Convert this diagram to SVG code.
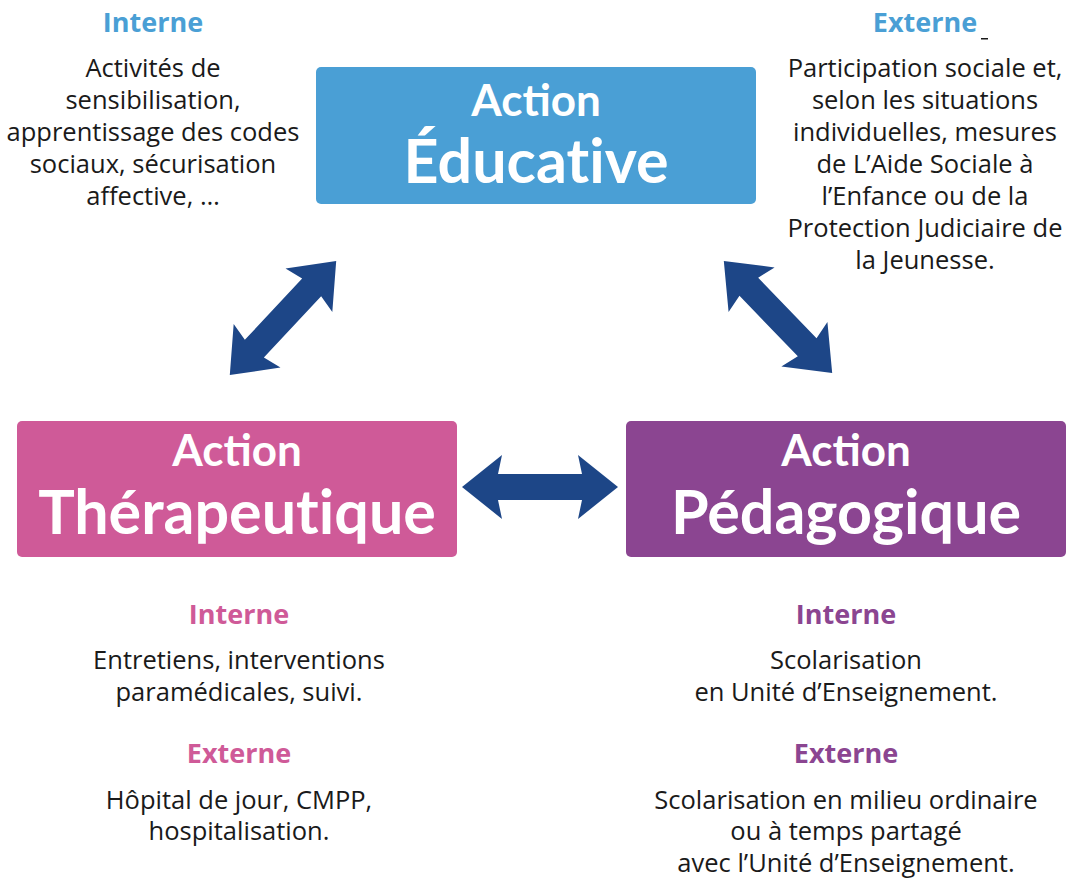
<svg xmlns="http://www.w3.org/2000/svg" width="1067" height="883" viewBox="0 0 1067 883">
<style>
.t{font-family:"Open Sans",Lato,"Liberation Sans",sans-serif;font-size:25.5px;fill:#1a1a1a;text-anchor:middle}
.h{font-family:"Open Sans",Lato,"Liberation Sans",sans-serif;font-size:27px;font-weight:bold;text-anchor:middle}
.b1{font-family:Lato,"Open Sans","Liberation Sans",sans-serif;font-size:44px;font-weight:bold;fill:#fff;text-anchor:middle}
.b2{font-family:Lato,"Open Sans","Liberation Sans",sans-serif;font-size:61px;font-weight:bold;fill:#fff;text-anchor:middle;font-variant-ligatures:none}
.blue{fill:#4a9fd5}.pink{fill:#cf5a98}.purple{fill:#8b4591}
.arr{fill:#1d4687}
</style>
<defs>
<path id="darr" d="M-78,0 L-38,-32 L-42,-13 L42,-13 L38,-32 L78,0 L38,32 L42,13 L-42,13 L-38,32 Z"/>
</defs>
<rect width="1067" height="883" fill="#fff"/>
<g id="educative">
<rect x="316" y="67" width="440" height="137" rx="5" class="blue"/>
<text class="b1" x="536" y="116">Action</text>
<text class="b2" x="536" y="183">Éducative</text>
</g>
<g id="therapeutique">
<rect x="17" y="421" width="440" height="136" rx="5" class="pink"/>
<text class="b1" x="237" y="466">Action</text>
<text class="b2" x="237" y="534">Thérapeutique</text>
</g>
<g id="pedagogique">
<rect x="626" y="421" width="440" height="136" rx="5" class="purple"/>
<text class="b1" x="846" y="466">Action</text>
<text class="b2" x="846" y="534">Pédagogique</text>
</g>
<g id="connectors" class="arr">
<use href="#darr" transform="translate(283,318) rotate(-47)"/>
<use href="#darr" transform="translate(778,317) rotate(46)"/>
<use href="#darr" transform="translate(540,487)"/>
</g>
<g id="educ-interne">
<text class="h blue" x="153" y="32">Interne</text>
<text class="t" x="153" y="77">Activités de</text>
<text class="t" x="153" y="109">sensibilisation,</text>
<text class="t" x="153" y="141">apprentissage des codes</text>
<text class="t" x="153" y="173">sociaux, sécurisation</text>
<text class="t" x="153" y="205">affective, …</text>
</g>
<g id="educ-externe">
<text class="h blue" x="925" y="32">Externe</text>
<rect x="981" y="38" width="7" height="1.5" fill="#1a1a1a"/>
<text class="t" x="925" y="77">Participation sociale et,</text>
<text class="t" x="925" y="109">selon les situations</text>
<text class="t" x="925" y="141">individuelles, mesures</text>
<text class="t" x="925" y="173">de L’Aide Sociale à</text>
<text class="t" x="925" y="205">l’Enfance ou de la</text>
<text class="t" x="925" y="237">Protection Judiciaire de</text>
<text class="t" x="925" y="269">la Jeunesse.</text>
</g>
<g id="thera-texts">
<text class="h pink" x="239" y="624">Interne</text>
<text class="t" x="239" y="669">Entretiens, interventions</text>
<text class="t" x="239" y="701">paramédicales, suivi.</text>
<text class="h pink" x="239" y="763">Externe</text>
<text class="t" x="239" y="809">Hôpital de jour, CMPP,</text>
<text class="t" x="239" y="840">hospitalisation.</text>
</g>
<g id="peda-texts">
<text class="h purple" x="846" y="624">Interne</text>
<text class="t" x="846" y="669">Scolarisation</text>
<text class="t" x="846" y="701">en Unité d’Enseignement.</text>
<text class="h purple" x="846" y="763">Externe</text>
<text class="t" x="846" y="809">Scolarisation en milieu ordinaire</text>
<text class="t" x="846" y="840">ou à temps partagé</text>
<text class="t" x="846" y="872">avec l’Unité d’Enseignement.</text>
</g>
</svg>
